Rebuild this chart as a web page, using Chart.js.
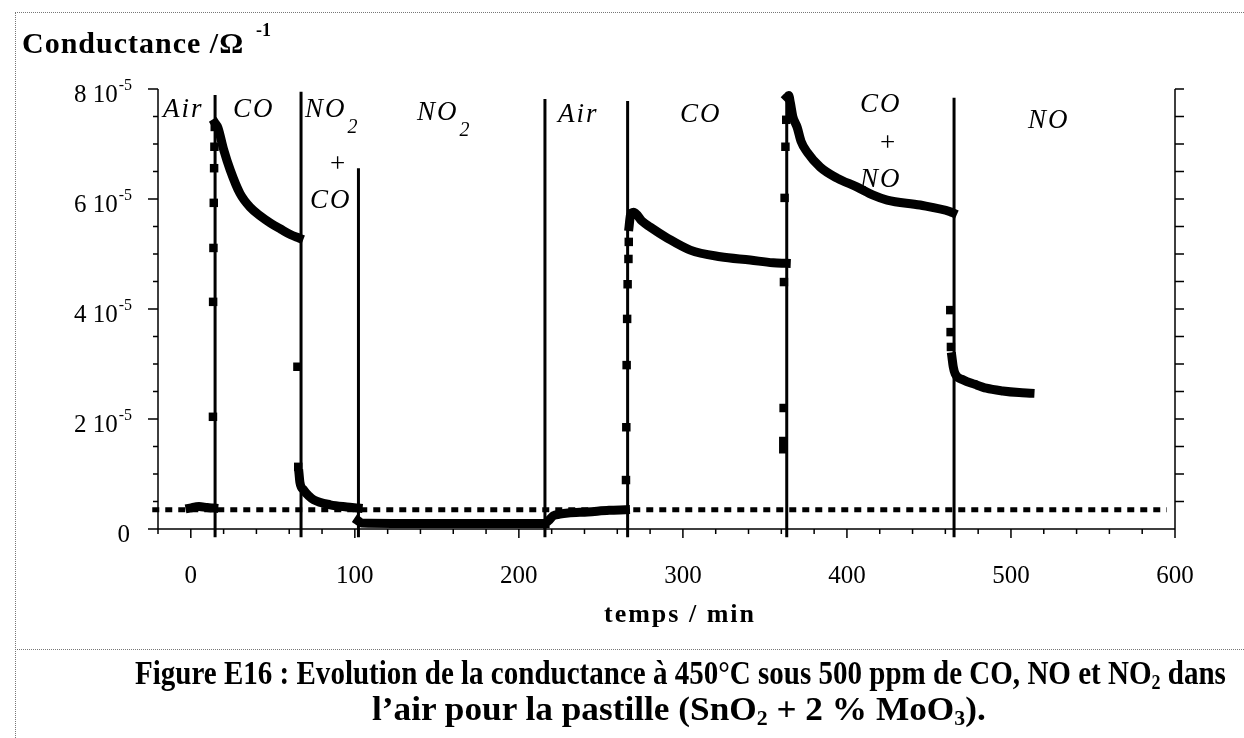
<!DOCTYPE html>
<html lang="fr">
<head>
<meta charset="utf-8">
<title>Figure E16 - conductance</title>
<script src="https://cdn.jsdelivr.net/npm/chart.js@4.4.1/dist/chart.umd.min.js"></script>
<style>
  body { margin: 0; background: #fff; }
  #wrap { position: relative; width: 1244px; height: 738px; overflow: hidden; background: #fff; }
  #chart { position: absolute; left: 0; top: 0; }
  .rule-h { position: absolute; left: 15px; right: 0; height: 0; border-top: 1px dotted #777; }
  .rule-v { position: absolute; left: 15px; top: 12px; bottom: 0; width: 0; border-left: 1px dotted #777; }
  .cap {
    position: absolute; white-space: nowrap;
    font: bold 34px "Liberation Serif", "Times New Roman", serif;
    line-height: 34px; color: #000; transform-origin: 0 0;
  }
  .cap sub { font-size: 0.62em; vertical-align: -0.25em; line-height: 0; }
</style>
</head>
<body>
<div id="wrap">
  <canvas id="chart" width="1244" height="738"></canvas>
  <div class="rule-h" style="top:12px"></div>
  <div class="rule-v"></div>
  <div class="rule-h" style="top:649px"></div>
  <div class="cap" id="cap1" data-left="135" data-width="1091" style="top:656px">Figure E16 : Evolution de la conductance à 450°C sous 500 ppm de CO, NO et NO<sub>2</sub> dans</div>
  <div class="cap" id="cap2" data-left="372" data-width="614" style="top:692px">l’air pour la pastille (SnO<sub>2</sub> + 2 % MoO<sub>3</sub>).</div>
</div>
<script>
// temps en min, conductance en 10^-5 Ω^-1 ; null = coupure entre deux segments
const curveTime = [
  -0.5, 5, 10, 14, null,
  14.8, 16.5, 20, 24, 30, 36.5, 42, 48.7, 55, 61, 66, null,
  66, 66.5, 68.8, 72, 75, 85, 95, 102, null,
  102, 104, 150, 200, 216, null,
  216, 218, 221, 225, 230, 242, 255, 265, null,
  267.2, 268, 270, 275, 280, 290.5, 304.5, 322.8, 341, 355, 363, null,
  363.5, 364.5, 365.5, 367, 369.7, 372, 375.8, 383.7, 394, 406, 416, 424.5, 444.6, 463, 464.5, null,
  464, 464.8, 466, 471, 478, 485, 495, 505, 511.6
];
const curveValue = [
  0.38, 0.41, 0.39, 0.38, null,
  7.38, 7.3, 6.9, 6.53, 6.1, 5.84, 5.7, 5.56, 5.45, 5.35, 5.29, null,
  1.0, 0.85, 0.71, 0.6, 0.53, 0.44, 0.4, 0.38, null,
  0.15, 0.11, 0.1, 0.1, 0.1, null,
  0.1, 0.15, 0.24, 0.27, 0.29, 0.31, 0.34, 0.35, null,
  5.5, 5.7, 5.76, 5.6, 5.49, 5.29, 5.07, 4.95, 4.89, 4.84, 4.83, null,
  7.85, 7.88, 7.75, 7.5, 7.3, 7.05, 6.85, 6.58, 6.38, 6.22, 6.07, 5.98, 5.89, 5.77, 5.75, null,
  3.13, 2.95, 2.82, 2.71, 2.63, 2.56, 2.51, 2.48, 2.47
];
// points isoles pendant les changements de gaz
const jumpTime = [13.5, 13.6, 13.8, 14, 14.2, 14.4, 14.6,
  65, 65.5,
  265.3, 265.5, 265.7, 266, 266.3, 266.8, 267,
  361.2, 361.2, 361.4, 361.6, 362, 362.5, 363,
  463, 463.2, 463.4];
const jumpValue = [2.04, 4.13, 5.11, 5.93, 6.56, 6.95, 7.31,
  2.95, 1.13,
  0.89, 1.85, 2.98, 3.82, 4.45, 4.91, 5.22,
  1.45, 1.6, 2.2, 4.49, 6.02, 6.95, 7.44,
  3.98, 3.58, 3.31];
// changements de gaz : instant et hauteur du trait
const switchTime = [14.8, 67.2, 102.2, 215.9, 266.3, 363.3, 465.3];
const switchTop = [7.89, 7.95, 6.56, 7.82, 7.78, 7.93, 7.84];
const baselineValue = 0.35;
const baselineFrom = -23.5;
const baselineTo = 595;
const xTickValues = [0, 100, 200, 300, 400, 500, 600];
const yTickValues = [0, 2, 4, 6, 8];
// noms des gaz (texte, sous-indice, temps, valeur)
const gasText = ['Air', 'CO', 'NO', '+', 'CO', 'NO', 'Air', 'CO', 'CO', '+', 'NO', 'NO'];
const gasSub = ['', '', '2', '', '', '2', '', '', '', '', '', ''];
const gasTime = [-17, 25.7, 69.6, 84.8, 72.7, 137.9, 223.8, 298.2, 407.9, 420.1, 407.9, 510.4];
const gasValue = [7.49, 7.49, 7.49, 6.5, 5.84, 7.44, 7.40, 7.40, 7.58, 6.88, 6.22, 7.29];

const SERIF = '"Liberation Serif", "Times New Roman", serif';

const curveData = curveTime.map((t, i) => t === null ? {x: NaN, y: null} : {x: t, y: curveValue[i]});
const jumpData = jumpTime.map((t, i) => ({x: t, y: jumpValue[i]}));
const switchData = [];
switchTime.forEach((t, i) => {
  switchData.push({x: t, y: -0.15}, {x: t, y: switchTop[i]}, {x: t, y: null});
});

const axesPlugin = {
  id: 'axesPlugin',
  beforeDatasetsDraw(chart) {
    const {ctx, scales: {x, y}} = chart;
    const l = x.getPixelForValue(-20), r = x.getPixelForValue(600);
    const t = y.getPixelForValue(8), b = y.getPixelForValue(0);
    ctx.save();
    ctx.strokeStyle = '#000';
    ctx.lineWidth = 1.5;
    ctx.beginPath();
    ctx.moveTo(l, t); ctx.lineTo(l, b);
    ctx.moveTo(l - 10, b); ctx.lineTo(r, b);
    ctx.moveTo(r, t); ctx.lineTo(r, b + 9);
    for (let v = 0.5; v <= 8; v += 0.5) {
      const py = y.getPixelForValue(v);
      const major = v % 2 === 0;
      ctx.moveTo(major ? l - 10 : l - 5, py); ctx.lineTo(l, py);
      ctx.moveTo(r, py); ctx.lineTo(r + 9, py);
    }
    for (let m = -20; m < 600; m += 20) {
      const px = x.getPixelForValue(m);
      ctx.moveTo(px, b); ctx.lineTo(px, b + (m % 100 === 0 ? 9 : 5));
    }
    ctx.stroke();
    ctx.restore();
  },
  afterDraw(chart) {
    const {ctx, scales: {x, y}} = chart;
    const l = x.getPixelForValue(-20);
    ctx.save();
    ctx.fillStyle = '#000';
    ctx.textBaseline = 'alphabetic';

    // graduations x
    ctx.font = '25px ' + SERIF;
    ctx.textAlign = 'center';
    xTickValues.forEach(v => ctx.fillText(String(v), x.getPixelForValue(v), y.getPixelForValue(0) + 54));

    // graduations y avec exposant
    const right = l - 26;
    yTickValues.forEach(v => {
      const py = y.getPixelForValue(v);
      ctx.textAlign = 'right';
      if (v === 0) {
        ctx.font = '25px ' + SERIF;
        ctx.fillText('0', right - 2, py + 13);
        return;
      }
      ctx.font = '16px ' + SERIF;
      const ew = ctx.measureText('-5').width;
      ctx.fillText('-5', right, py + 1);
      ctx.font = '25px ' + SERIF;
      ctx.fillText(v + ' 10', right - ew - 1, py + 13);
    });

    // titres des axes
    ctx.textAlign = 'left';
    ctx.font = 'bold 30px ' + SERIF;
    ctx.letterSpacing = '1px';
    ctx.fillText('Conductance /Ω', 22, 53);
    ctx.font = 'bold 18px ' + SERIF;
    ctx.letterSpacing = '0px';
    ctx.fillText('-1', 256, 36);
    ctx.font = 'bold 26px ' + SERIF;
    ctx.letterSpacing = '2px';
    ctx.textAlign = 'center';
    ctx.fillText('temps / min', 680, 622);

    // noms des gaz
    ctx.textAlign = 'left';
    gasText.forEach((txt, i) => {
      const px = x.getPixelForValue(gasTime[i]);
      const py = y.getPixelForValue(gasValue[i]);
      if (txt === '+') {
        ctx.font = '27px ' + SERIF;
        ctx.letterSpacing = '0px';
      } else {
        ctx.font = 'italic 27px ' + SERIF;
        ctx.letterSpacing = '2px';
      }
      ctx.fillText(txt, px, py);
      if (gasSub[i]) {
        const w = ctx.measureText(txt).width;
        ctx.font = 'italic 20px ' + SERIF;
        ctx.fillText(gasSub[i], px + w + 1, py + 16);
      }
    });
    ctx.restore();
  }
};

const ctx = document.getElementById('chart').getContext('2d');
new Chart(ctx, {
  type: 'line',
  data: {
    datasets: [
      {
        label: 'sauts',
        data: jumpData,
        showLine: false,
        pointStyle: 'rect',
        pointRadius: 6,
        pointBackgroundColor: '#000',
        pointBorderWidth: 0
      },
      {
        label: 'conductance',
        data: curveData,
        borderColor: '#000',
        borderWidth: 9,
        pointRadius: 0,
        spanGaps: false,
        cubicInterpolationMode: 'monotone',
        borderJoinStyle: 'round',
        borderCapStyle: 'square'
      },
      {
        label: 'changements',
        data: switchData,
        borderColor: '#000',
        borderWidth: 3,
        pointRadius: 0,
        spanGaps: false,
        clip: false
      },
      {
        label: 'air',
        data: [{x: baselineFrom, y: baselineValue}, {x: baselineTo, y: baselineValue}],
        borderColor: '#000',
        borderWidth: 5,
        borderDash: [7, 6],
        pointRadius: 0,
        clip: false
      }
    ]
  },
  options: {
    responsive: false,
    animation: false,
    devicePixelRatio: 1,
    events: [],
    layout: { padding: { left: 158, right: 69, top: 89, bottom: 209 } },
    scales: {
      x: { type: 'linear', min: -20, max: 600, display: false },
      y: { type: 'linear', min: 0, max: 8, display: false }
    },
    plugins: { legend: { display: false }, tooltip: { enabled: false } }
  },
  plugins: [axesPlugin]
});

// legende : chaque ligne ramenee a sa largeur d'origine
document.querySelectorAll('.cap').forEach(el => {
  el.style.left = el.dataset.left + 'px';
  el.style.transform = 'scaleX(' + (+el.dataset.width / el.scrollWidth) + ')';
});
</script>
</body>
</html>
